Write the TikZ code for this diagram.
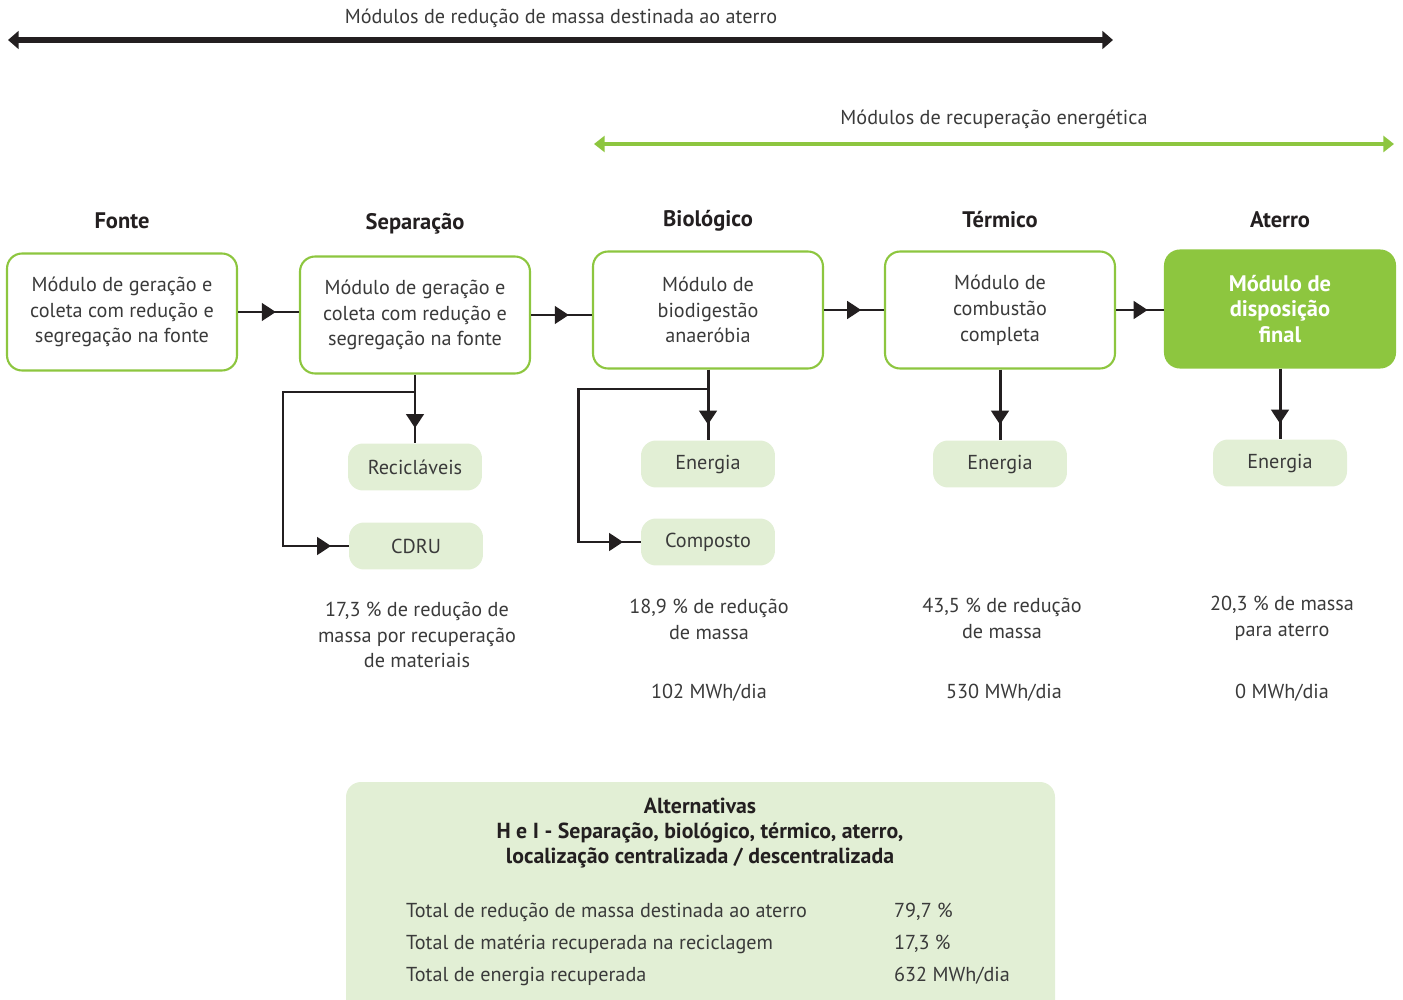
\documentclass[tikz,border=0pt]{standalone}
\usepackage{fontspec}
\setmainfont{PT Sans}
\usetikzlibrary{arrows.meta, positioning, decorations.markings}

\definecolor{leafgreen}{HTML}{8DC63F}
\definecolor{palegreen}{HTML}{E2EFD5}
\definecolor{inkgray}{HTML}{3A3A3A}
\definecolor{linedark}{HTML}{231F20}

\begin{document}
\begin{tikzpicture}[
  x=0.02cm, y=-0.02cm,
  every node/.style={text=inkgray, font=\fontsize{11.5}{14.7}\selectfont},
  module_box/.style={draw=leafgreen, line width=1.2pt, rounded corners=0.3cm, fill=white, minimum width=4.6cm, minimum height=2.34cm, align=center},
  final_box/.style={module_box, fill=leafgreen, text=white, font=\fontsize{12.8}{14.7}\selectfont\bfseries},
  out_box/.style={fill=palegreen, rounded corners=0.3cm, minimum width=2.68cm, minimum height=0.94cm},
  head_label/.style={text=linedark, font=\fontsize{12.8}{14.7}\selectfont\bfseries},
  note/.style={align=center},
  link/.style={draw=linedark, line width=1.7pt},
  tip_at/.style={link, postaction={decorate}, decoration={markings, mark=at position #1 with {\arrow{Triangle[length=8pt, width=10pt]}}}}
]
  \path[use as bounding box] (0,0) rectangle (1403,1000);
  \clip (0,0) rectangle (1403,1000);

  % Scope arrows on top
  \node (top_label) at (561,18) {Módulos de redução de massa destinada ao aterro};
  \coordinate (top_l) at (8,40);
  \coordinate (top_r) at (1113,40);
  \draw[{Triangle[length=6pt, width=10pt]}-{Triangle[length=6pt, width=10pt]}, line width=3.4pt, draw=linedark] (top_l) -- (top_r);

  \node (energy_label) at (994,119) {Módulos de recuperação energética};
  \coordinate (energy_l) at (594,144);
  \coordinate (energy_r) at (1394,144);
  \draw[{Triangle[length=6pt, width=9pt]}-{Triangle[length=6pt, width=9pt]}, line width=2.8pt, draw=leafgreen] (energy_l) -- (energy_r);

  % Stage headers
  \node (h_fonte) [head_label] at (122,221) {Fonte};
  \node (h_separacao) [head_label] at (415,224) {Separação};
  \node (h_biologico) [head_label] at (708,221) {Biológico};
  \node (h_termico) [head_label] at (1000,220) {Térmico};
  \node (h_aterro) [head_label] at (1280,220) {Aterro};

  % Modules
  \node (fonte) [module_box] at (122,312) {Módulo de geração e\\coleta com redução e\\segregação na fonte};
  \node (separacao) [module_box] at (415,315) {Módulo de geração e\\coleta com redução e\\segregação na fonte};
  \node (biologico) [module_box] at (708,310) {Módulo de\\biodigestão\\anaeróbia};
  \node (termico) [module_box] at (1000,310) {Módulo de\\combustão\\completa};
  \node (aterro) [final_box] at (1280,309) {Módulo de\\disposição\\final};

  % Outputs
  \node (reciclaveis) [out_box] at (415,467) {Recicláveis};
  \node (cdru) [out_box] at (416,546) {CDRU};
  \node (energia_bio) [out_box] at (708,464) {Energia};
  \node (composto) [out_box] at (708,542) {Composto};
  \node (energia_term) [out_box] at (1000,464) {Energia};
  \node (energia_aterro) [out_box] at (1280,463) {Energia};

  % Results per stage
  \node (nota_sep) [note] at (417,635) {17,3 \% de redução de\\massa por recuperação\\de materiais};
  \node (nota_bio) [note] at (709,619) {18,9 \% de redução\\de massa};
  \node (nota_term) [note] at (1002,618) {43,5 \% de redução\\de massa};
  \node (nota_aterro) [note] at (1282,618) {20,3 \% de massa\\para aterro};
  \node (mwh_bio) at (709,693) {102 MWh/dia};
  \node (mwh_term) at (1004,693) {530 MWh/dia};
  \node (mwh_aterro) at (1282,693) {0 MWh/dia};

  % Connections
  \draw[tip_at=0.62] (fonte.east) -- (fonte.east -| separacao.west);
  \draw[tip_at=0.62] (separacao.east) -- (separacao.east -| biologico.west);
  \draw[tip_at=0.62] (biologico.east) -- (biologico.east -| termico.west);
  \draw[tip_at=0.66] (termico.east) -- (termico.east -| aterro.west);

  \draw[tip_at=0.78] (separacao.south) -- (reciclaveis.north);
  \draw[tip_at=0.78] (biologico.south) -- (energia_bio.north);
  \draw[tip_at=0.78] (termico.south) -- (energia_term.north);
  \draw[tip_at=0.78] (aterro.south) -- (energia_aterro.north);

  \coordinate (sep_branch) at (415,392);
  \coordinate (sep_loop) at (283,392);
  \draw[tip_at=-10pt] (sep_branch) -- (sep_loop) |- (cdru.west);
  \coordinate (bio_branch) at (708,389);
  \coordinate (bio_loop) at (578,389);
  \draw[tip_at=-10pt] (bio_branch) -- (bio_loop) |- (composto.west);

  % Summary panel
  \fill[palegreen, rounded corners=0.3cm] (346,782) rectangle (1055,1030);
  \node (alt_title) [align=center, text=linedark, font=\fontsize{12.4}{14.4}\selectfont\bfseries] at (700,833) {Alternativas\\H e I - Separação, biológico, térmico, aterro,\\localização centralizada / descentralizada};
  \node (row_massa) [anchor=west] at (400,912) {Total de redução de massa destinada ao aterro};
  \node (row_materia) [anchor=west] at (400,944) {Total de matéria recuperada na reciclagem};
  \node (row_energia) [anchor=west] at (400,976) {Total de energia recuperada};
  \node (val_massa) [anchor=west] at (888,912) {79,7 \%};
  \node (val_materia) [anchor=west] at (888,944) {17,3 \%};
  \node (val_energia) [anchor=west] at (888,976) {632 MWh/dia};

\end{tikzpicture}
\end{document}
